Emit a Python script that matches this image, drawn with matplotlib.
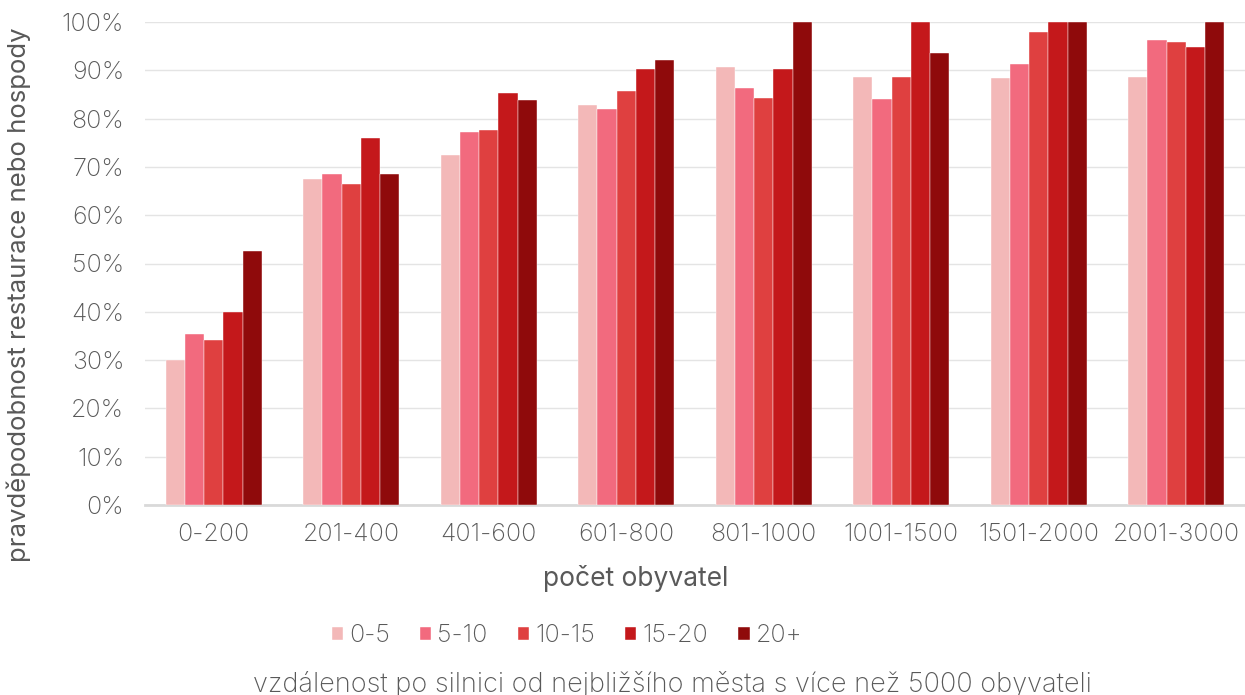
import numpy as np
import matplotlib.pyplot as plt
from matplotlib.ticker import PercentFormatter

# Kategorie podle počtu obyvatel
kategorie = ['0-200', '201-400', '401-600', '601-800', '801-1000',
             '1001-1500', '1501-2000', '2001-3000']

# Vzdálenost po silnici (km) – série
vzdalenosti = ['0-5', '5-10', '10-15', '15-20', '20+']

# Pravděpodobnost pro jednotlivé série
p_0_5 = [0.300, 0.674, 0.725, 0.828, 0.906, 0.887, 0.885, 0.887]
p_5_10 = [0.355, 0.685, 0.772, 0.820, 0.863, 0.840, 0.913, 0.962]
p_10_15 = [0.342, 0.664, 0.776, 0.857, 0.842, 0.886, 0.980, 0.958]
p_15_20 = [0.400, 0.760, 0.852, 0.903, 0.902, 1.000, 1.000, 0.948]
p_20 = [0.526, 0.685, 0.838, 0.921, 1.000, 0.936, 1.000, 1.000]

serie = [p_0_5, p_5_10, p_10_15, p_15_20, p_20]
barvy = ['#F3B8B8', '#F26A7E', '#DF4040', '#C4181B', '#8F0A0B']

sedy_text = '#595959'
plt.rcParams['font.family'] = ['Inter', 'DejaVu Sans']
plt.rcParams['font.weight'] = 'light'

fig = plt.figure(figsize=(12.45, 6.95), dpi=100)
ax = fig.add_axes([145 / 1245, 1 - 505 / 695, 1100 / 1245, 483 / 695])

x = np.arange(len(kategorie))
sirka = 0.14
for i, (hodnoty, barva, nazev) in enumerate(zip(serie, barvy, vzdalenosti)):
    ax.bar(x + (i - 2) * sirka, hodnoty, width=sirka, color=barva,
           edgecolor='white', linewidth=0.3, label=nazev, zorder=3)

ax.set_xlim(-0.5, len(kategorie) - 0.5)
ax.set_ylim(0, 1)
ax.set_yticks(np.arange(0, 1.01, 0.1))
ax.yaxis.set_major_formatter(PercentFormatter(1.0, decimals=0))
ax.set_xticks(x)
ax.set_xticklabels(kategorie)

ax.grid(axis='y', color='#E4E4E4', linewidth=1, zorder=0)
for s in ['top', 'right', 'left']:
    ax.spines[s].set_visible(False)
ax.spines['bottom'].set_color('#D9D9D9')
ax.spines['bottom'].set_linewidth(2)
ax.tick_params(axis='both', length=0, labelsize=18, colors=sedy_text)
ax.tick_params(axis='x', pad=13)
ax.tick_params(axis='y', pad=15)

ax.set_xlabel('počet obyvatel', fontsize=19, color=sedy_text)
ax.xaxis.set_label_coords((636 - 145) / 1100, -(565 - 505) / 483)
ax.set_ylabel('pravděpodobnost restaurace nebo hospody', fontsize=18.5,
              color=sedy_text)
ax.yaxis.set_label_coords(-(145 - 31) / 1100, (505 - 295) / 483)

leg = fig.legend(loc='center', bbox_to_anchor=(567 / 1245, 1 - 636 / 695), ncol=5,
                 frameon=False, fontsize=18, handlelength=0.45,
                 handleheight=0.45, handletextpad=0.25, columnspacing=1.2)
for t in leg.get_texts():
    t.set_color(sedy_text)

fig.text(672 / 1245, 1 - 684 / 695, 'vzdálenost po silnici od nejbližšího města s více než 5000 obyvateli',
         ha='center', va='center', fontsize=19.5, color=sedy_text)

fig.savefig('out.png', dpi=100)
